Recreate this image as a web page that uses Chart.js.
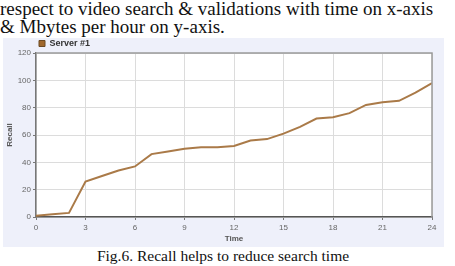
<!DOCTYPE html>
<html>
<head>
<meta charset="utf-8">
<script src="https://cdn.jsdelivr.net/npm/chart.js@4/dist/chart.umd.min.js"></script>
<style>
  body { margin: 0; width: 455px; height: 266px; overflow: hidden; background: #fff; position: relative; }
  .para { position: absolute; left: 0; top: 0px; width: 490px; font-family: "Liberation Serif", "Times New Roman", serif; font-size: 19px; line-height: 18px; color: #111; white-space: nowrap; }
  #panel { position: absolute; left: 3px; top: 38px; width: 441px; height: 209px; background: #eef0fa; }
  .caption { position: absolute; left: 0; width: 446px; top: 247px; text-align: center; font-family: "Liberation Serif", "Times New Roman", serif; font-size: 15.5px; color: #111; }
</style>
</head>
<body>
<div class="para">respect to video search &amp; validations with time on x-axis<br>&amp; Mbytes per hour on y-axis.</div>
<div id="panel"><canvas id="recallChart" width="441" height="209"></canvas></div>
<div class="caption">Fig.6. Recall helps to reduce search time</div>

<script>
// data
const hours = [0, 1, 2, 3, 4, 5, 6, 7, 8, 9, 10, 11, 12, 13, 14, 15, 16, 17, 18, 19, 20, 21, 22, 23, 24];
const recall = [1, 2, 3, 26, 30, 34, 37, 46, 48, 50, 51, 51, 52, 56, 57, 61, 66, 72, 73, 76, 82, 84, 85, 91, 98];
const seriesName = 'Server #1';
const xTicks = [0, 3, 6, 9, 12, 15, 18, 21, 24];
const yTicks = [0, 20, 40, 60, 80, 100, 120];

const points = hours.map((h, i) => ({ x: h, y: recall[i] }));

// white plot area with a grey frame, like the original
const plotFrame = {
  id: 'plotFrame',
  beforeDraw(chart) {
    const { ctx, chartArea: a } = chart;
    ctx.save();
    ctx.fillStyle = '#ffffff';
    ctx.fillRect(a.left, a.top, a.right - a.left, a.bottom - a.top);
    ctx.restore();
  },
  afterDraw(chart) {
    const { ctx, chartArea: a } = chart;
    ctx.save();
    ctx.strokeStyle = '#9a9a9a';
    ctx.lineWidth = 1.5;
    ctx.beginPath();
    ctx.moveTo(a.left, a.top);
    ctx.lineTo(a.right, a.top);
    ctx.lineTo(a.right, a.bottom);
    ctx.stroke();
    ctx.restore();
  }
};

// move the legend so it starts over the plot area
const legendShift = {
  id: 'legendShift',
  afterLayout(chart) {
    chart.legend.left = chart.chartArea.left + 2;
  }
};

const ctx = document.getElementById('recallChart').getContext('2d');
const recallChart = new Chart(ctx, {
  type: 'line',
  data: {
    datasets: [{
      label: seriesName,
      data: points,
      borderColor: '#aa7a48',
      backgroundColor: '#a0682c',
      borderWidth: 2,
      pointRadius: 0,
      tension: 0
    }]
  },
  options: {
    responsive: false,
    animation: false,
    layout: { padding: { left: 2, right: 12, top: 0, bottom: 3 } },
    plugins: {
      tooltip: { enabled: false },
      legend: {
        position: 'top',
        align: 'start',
        maxHeight: 15,
        labels: {
          boxWidth: 6,
          boxHeight: 6,
          padding: 1,
          color: '#333',
          font: { family: 'Liberation Sans', size: 9, weight: 'bold' },
          generateLabels(chart) {
            const items = Chart.defaults.plugins.legend.labels.generateLabels(chart);
            items.forEach(it => { it.lineWidth = 1; it.strokeStyle = '#6b4a22'; });
            return items;
          }
        }
      }
    },
    scales: {
      x: {
        type: 'linear',
        min: 0,
        max: 24,
        afterBuildTicks(scale) { scale.ticks = xTicks.map(v => ({ value: v })); },
        afterFit(scale) { scale.height = 27; },
        grid: { color: '#dcdcdc', tickLength: 3, tickColor: '#777' },
        border: { color: '#555', width: 1.5 },
        ticks: { color: '#666', padding: 3, maxRotation: 0, font: { family: 'Liberation Sans', size: 8 } },
        title: { display: true, text: 'Time', color: '#555', padding: 0, font: { family: 'Liberation Sans', size: 8, weight: 'bold' } }
      },
      y: {
        min: 0,
        max: 120,
        afterBuildTicks(scale) { scale.ticks = yTicks.map(v => ({ value: v })); },
        afterFit(scale) { scale.width = 31; },
        grid: { color: '#dcdcdc', tickLength: 3, tickColor: '#777' },
        border: { color: '#777', width: 1.5 },
        ticks: { color: '#666', padding: 2, font: { family: 'Liberation Sans', size: 8 } },
        title: { display: true, text: 'Recall', color: '#555', padding: 0, font: { family: 'Liberation Sans', size: 8, weight: 'bold' } }
      }
    }
  },
  plugins: [plotFrame, legendShift]
});
</script>
</body>
</html>
